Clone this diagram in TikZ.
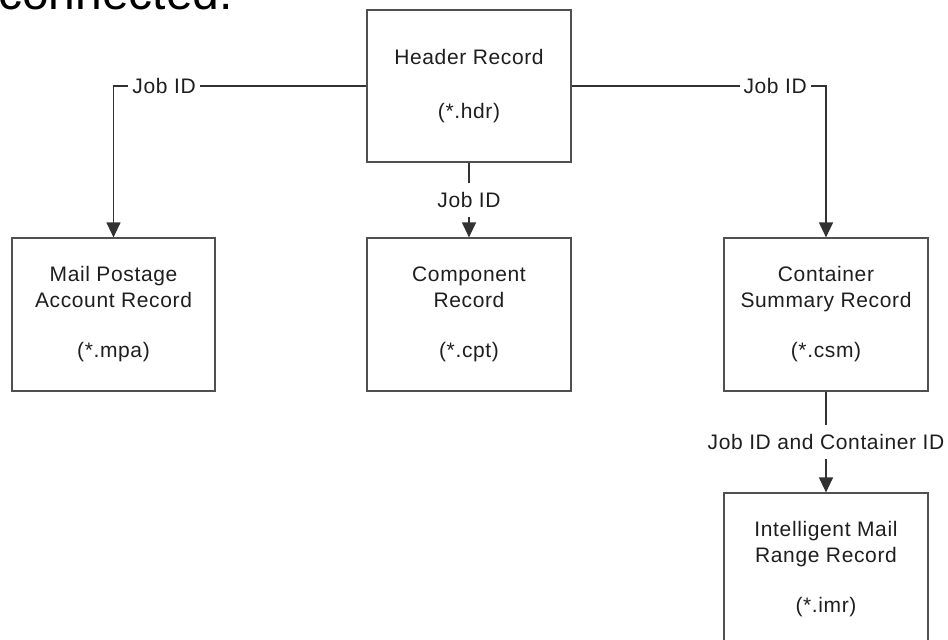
\documentclass[tikz,border=0pt]{standalone}
\usepackage{fontspec}
\setmainfont{Liberation Sans}
\newfontfamily\diafont{Liberation Sans}[LetterSpace=3]
\usetikzlibrary{arrows.meta}
\definecolor{linec}{RGB}{50,50,50}
\definecolor{boxc}{RGB}{80,80,80}
\definecolor{textc}{RGB}{30,30,30}
\tikzset{
  recbox/.style={draw=boxc, line width=1.2pt, rectangle, align=center, text=textc,
    font=\diafont\fontsize{21}{26}\selectfont, inner sep=0pt},
  conn/.style={draw=linec, line width=1.2pt, -{Triangle[length=15pt,width=14pt]}},
  lbl/.style={fill=white, text=textc, font=\diafont\fontsize{21}{26}\selectfont,
    inner xsep=4pt, inner ysep=9pt}
}
\begin{document}
\begin{tikzpicture}[x=1pt,y=-1pt]
\useasboundingbox (0,0) rectangle (948,640);
\node[anchor=base west, inner sep=0pt, text=black, font=\fontsize{48}{56}\selectfont] (title) at (-2,9) {connected.};
\node[recbox, minimum width=204pt, minimum height=152pt] (hdr) at (469,86) {Header Record\\[28pt](*.hdr)};
\node[recbox, minimum width=203pt, minimum height=153pt] (mpa) at (113.5,314.5) {Mail Postage\\Account Record\\[24pt](*.mpa)};
\node[recbox, minimum width=204pt, minimum height=153pt] (cpt) at (469,314.5) {Component\\Record\\[24pt](*.cpt)};
\node[recbox, minimum width=204pt, minimum height=153pt] (csm) at (826,314.5) {Container\\Summary Record\\[24pt](*.csm)};
\node[recbox, minimum width=204pt, minimum height=152pt] (imr) at (826,569) {Intelligent Mail\\Range Record\\[24pt](*.imr)};
\draw[conn] (hdr.west) -| node[lbl, pos=0.40] {Job ID} (mpa.north);
\draw[conn] (hdr.east) -| node[lbl, pos=0.40] {Job ID} (csm.north);
\draw[conn] (hdr.south) -- node[lbl, pos=0.5] {Job ID} (cpt.north);
\draw[conn] (csm.south) -- node[lbl, pos=0.5] {Job ID and Container ID} (imr.north);
\end{tikzpicture}
\end{document}
